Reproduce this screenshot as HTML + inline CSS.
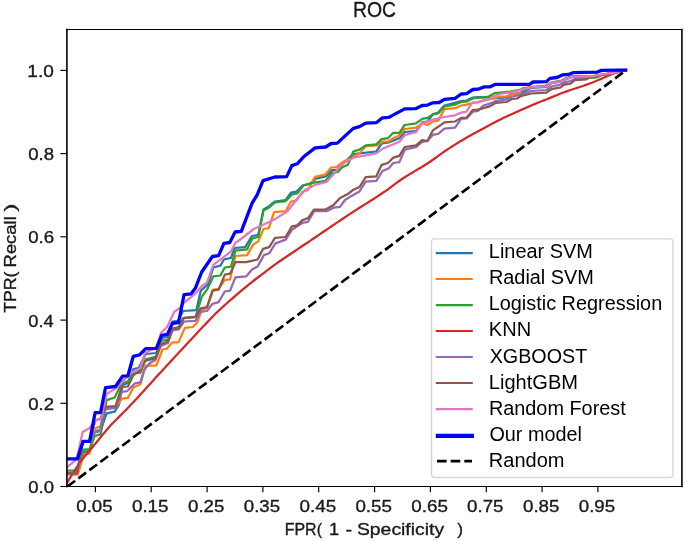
<!DOCTYPE html>
<html><head><meta charset="utf-8"><title>ROC</title>
<style>
html,body{margin:0;padding:0;background:#fff;}
body{width:685px;height:541px;overflow:hidden;position:relative;font-family:"Liberation Sans",sans-serif;}
</style></head><body>
<svg width="685" height="541" viewBox="0 0 685 541" style="display:block;position:absolute;left:0;top:0">
<rect x="0" y="0" width="685" height="541" fill="#ffffff"/>
<defs><clipPath id="ax"><rect x="66.9" y="29.5" width="615.0" height="457.0"/></clipPath></defs>
<g clip-path="url(#ax)" fill="none" stroke-linejoin="round" stroke-linecap="square">
<polyline points="67.2,473.5 77.5,473.5 83.5,452.0 89.5,451.0 95.0,431.0 100.7,430.0 106.6,413.4 114.6,411.7 119.0,404.6 122.6,385.0 127.9,383.0 133.3,369.0 138.6,368.2 145.7,354.0 156.3,353.0 161.7,338.0 167.9,337.0 172.4,321.7 177.8,320.8 183.1,311.0 196.4,310.1 200.8,290.6 207.9,284.4 213.3,267.5 220.4,265.7 223.9,259.5 231.0,257.8 234.6,248.0 245.2,247.1 252.0,236.0 258.2,235.0 263.5,209.5 268.8,206.5 275.0,201.5 285.7,200.0 291.0,192.6 296.3,191.7 302.5,185.5 310.5,183.7 315.9,178.7 325.7,176.4 332.0,170.1 337.3,169.8 342.6,163.9 353.3,154.1 359.5,153.3 376.3,151.5 381.7,143.5 387.9,142.6 399.4,138.2 404.7,132.0 416.0,131.2 422.2,122.4 427.5,121.5 432.8,114.4 438.2,112.6 444.4,105.5 455.0,102.8 461.2,101.1 466.6,100.5 472.8,97.5 478.1,97.2 488.8,97.5 494.1,98.4 506.5,97.5 511.0,94.0 520.0,93.1 531.3,88.0 546.4,87.0 551.7,83.2 561.5,81.5 565.0,79.6 572.1,77.0 591.7,76.6 602.3,74.5 613.0,72.8 625.7,70.2" stroke="#1f77b4" stroke-width="2.25"/>
<polyline points="67.2,474.3 77.8,474.6 83.7,454.4 89.6,453.6 94.8,428.5 100.5,426.3 105.5,407.0 116.6,406.0 122.0,398.7 127.9,397.9 133.3,387.5 140.4,384.2 145.7,365.5 156.3,365.5 162.5,349.5 167.0,348.6 172.3,342.4 178.5,342.4 181.3,335.9 184.9,327.9 192.8,327.0 197.3,322.5 201.7,310.0 207.0,308.0 213.3,289.7 218.6,288.8 224.8,279.9 230.1,279.4 235.4,256.0 247.0,255.1 253.2,244.6 258.2,241.4 263.5,229.0 268.8,228.1 274.1,212.1 285.7,211.2 291.0,201.5 296.3,200.6 302.5,191.7 307.9,189.9 315.0,176.9 325.6,174.3 331.1,167.5 336.4,167.1 342.6,162.1 351.5,157.7 359.5,153.3 365.7,146.2 377.2,145.3 382.5,141.7 387.9,141.7 393.2,138.2 399.4,135.5 404.7,129.0 416.0,127.7 422.2,123.3 427.5,125.0 432.8,121.5 438.2,120.6 444.4,109.1 455.0,108.2 461.2,105.5 466.6,104.6 472.8,102.8 478.1,102.5 483.4,100.2 494.1,98.4 499.4,96.6 506.5,96.3 513.6,94.0 520.0,93.1 522.4,88.2 545.5,85.5 551.7,82.5 561.5,80.8 565.0,79.0 572.1,76.4 591.7,76.2 602.3,74.5 613.0,72.8 625.7,70.2" stroke="#ff7f0e" stroke-width="2.25"/>
<polyline points="67.2,470.7 76.3,470.7 83.7,449.6 89.6,449.2 94.8,435.9 100.7,434.4 104.4,413.0 106.6,400.1 114.6,397.5 121.7,383.3 127.9,381.5 133.3,373.5 140.4,372.6 145.7,359.3 156.3,356.6 161.7,340.7 167.7,339.8 173.3,328.3 178.9,327.0 183.1,318.1 195.5,317.2 201.7,296.8 207.0,289.7 213.3,276.4 220.4,275.5 224.8,267.5 231.0,266.6 235.4,250.7 247.0,249.4 252.3,238.5 258.2,237.0 263.5,210.4 268.8,207.7 275.0,202.4 285.7,201.1 291.9,194.4 297.2,193.5 303.4,185.5 312.3,182.8 325.7,180.8 332.0,172.8 338.2,171.9 341.7,167.5 347.9,164.8 353.3,151.5 359.5,149.7 365.7,145.3 376.3,144.4 381.7,139.1 387.9,138.2 393.2,132.8 399.4,132.8 404.7,125.0 416.0,123.3 422.2,118.8 427.5,117.9 432.8,114.4 438.2,113.5 444.4,106.4 455.0,104.6 461.2,102.0 466.6,101.6 472.8,98.4 488.8,96.6 495.0,93.1 510.0,91.7 520.7,89.5 531.3,87.0 546.4,86.0 551.7,82.5 561.5,80.5 565.0,78.8 572.1,76.2 586.3,76.4 591.7,77.8 597.0,77.3 602.3,74.9 613.0,73.1 625.7,70.2" stroke="#2ca02c" stroke-width="2.25"/>
<polyline points="67.2,482.5 70.3,477.4 73.5,472.4 76.8,467.2 80.0,462.3 83.0,458.4 86.0,454.8 89.0,451.3 92.0,447.8 95.1,444.0 98.2,440.2 101.3,436.3 104.4,432.6 107.2,429.3 110.0,426.1 113.1,422.8 116.2,419.7 119.2,416.6 122.3,413.5 125.4,410.5 128.5,407.3 131.6,404.0 134.7,400.7 137.8,397.4 140.8,394.0 143.9,390.7 147.0,387.3 150.1,383.9 153.2,380.5 156.2,377.1 159.3,373.7 162.4,370.4 165.5,367.0 168.6,363.7 171.6,360.4 174.7,357.1 177.8,353.8 180.8,350.5 183.9,347.2 186.8,344.1 189.6,341.1 192.5,338.0 195.3,334.9 198.2,331.8 201.0,328.8 203.9,325.8 206.7,322.9 209.4,320.0 212.2,317.1 214.9,314.3 217.7,311.6 220.5,309.0 223.3,306.4 226.0,304.0 228.8,301.5 231.6,299.1 234.4,296.7 237.1,294.3 239.9,291.9 242.6,289.6 245.4,287.3 248.7,284.7 251.9,282.1 255.2,279.5 258.5,277.0 261.6,274.6 264.7,272.3 267.8,269.9 270.8,267.6 273.9,265.3 277.0,263.1 280.0,261.0 283.0,259.0 286.0,257.0 289.0,255.0 292.0,253.0 295.0,251.0 298.1,248.9 301.2,246.8 304.2,244.8 307.3,242.7 310.4,240.6 313.5,238.5 316.5,236.5 319.6,234.4 322.7,232.3 325.8,230.2 328.9,228.1 332.0,226.0 335.1,223.9 338.1,221.9 341.2,219.8 344.3,217.7 347.4,215.6 350.5,213.6 353.4,211.7 356.2,209.9 359.1,208.0 362.0,206.2 364.9,204.4 367.8,202.6 370.6,200.8 373.5,199.0 376.4,197.1 379.2,195.3 382.1,193.3 385.0,191.4 388.0,189.3 390.9,187.1 393.9,184.9 396.9,182.7 399.8,180.5 402.8,178.5 405.9,176.5 409.0,174.6 412.1,172.7 415.2,170.9 418.4,169.0 421.5,167.2 424.6,165.3 427.7,163.3 430.8,161.2 433.9,159.0 436.9,156.8 440.0,154.6 443.1,152.4 446.2,150.3 449.1,148.4 452.1,146.5 455.0,144.6 458.0,142.7 460.9,140.9 463.9,139.2 466.7,137.6 469.4,136.1 472.2,134.6 474.9,133.1 477.7,131.6 480.5,130.1 483.3,128.5 486.0,127.0 488.8,125.5 491.6,124.0 494.4,122.6 497.2,121.1 499.9,119.7 502.7,118.3 505.5,117.0 508.3,115.7 511.0,114.5 513.8,113.2 516.5,112.0 519.3,110.8 522.4,109.4 525.6,108.0 528.7,106.6 531.9,105.2 535.0,103.9 537.9,102.7 540.8,101.5 543.8,100.4 546.7,99.3 549.6,98.1 552.5,96.9 555.4,95.7 558.4,94.5 561.3,93.3 564.2,92.2 567.3,91.1 570.5,90.0 573.6,89.0 576.7,88.0 579.8,87.0 583.0,86.0 586.1,84.9 589.0,83.8 591.9,82.7 594.9,81.5 597.8,80.3 600.7,79.1 603.6,77.8 606.5,76.5 609.5,75.2 612.4,74.0 615.8,72.8 619.2,71.8 622.6,70.9 625.7,70.2" stroke="#d62728" stroke-width="2.25"/>
<polyline points="67.2,473.0 77.0,473.0 82.8,441.9 89.3,441.5 94.3,432.5 99.9,431.4 102.4,418.2 104.0,411.1 106.5,409.1 115.5,408.0 121.7,392.0 127.0,391.2 135.0,383.3 140.4,382.4 144.0,370.0 150.0,363.0 155.4,360.0 160.8,346.0 167.9,343.0 172.4,330.5 178.6,329.5 184.0,321.5 195.5,320.8 200.8,311.9 207.0,311.0 212.4,303.9 218.6,302.1 224.8,291.5 230.1,290.6 235.4,277.3 246.1,276.4 252.3,269.3 257.6,266.6 263.9,255.1 269.2,253.3 275.4,243.4 285.7,239.6 291.9,229.9 297.2,226.3 302.5,222.8 307.9,221.9 314.1,211.2 326.5,211.2 333.6,207.7 340.0,206.8 345.0,200.0 351.5,195.9 359.5,191.4 365.7,181.7 376.3,180.8 382.5,171.0 388.8,168.3 393.2,163.0 399.4,162.1 404.7,149.7 416.0,147.2 422.2,141.9 427.5,141.0 432.8,134.8 438.2,133.9 444.4,128.6 455.0,127.7 461.2,118.8 466.6,118.5 472.8,111.7 478.1,110.8 483.4,105.5 489.7,103.7 495.9,101.1 506.5,99.3 511.8,96.6 520.0,94.9 531.3,91.0 546.4,90.0 551.7,86.5 560.6,84.5 564.1,82.5 570.4,81.0 574.8,79.0 586.3,78.5 591.7,76.6 602.3,74.9 613.0,73.1 625.7,70.2" stroke="#9467bd" stroke-width="2.25"/>
<polyline points="67.2,473.3 77.0,473.3 82.8,441.5 89.3,441.2 95.3,420.7 100.4,418.8 103.5,411.1 106.0,406.8 115.5,406.3 121.7,386.8 127.9,386.5 133.3,375.3 140.4,370.0 144.8,361.0 155.4,358.4 160.8,344.2 167.9,341.5 172.4,328.8 178.6,327.9 184.0,317.8 195.5,316.9 200.8,308.3 207.0,307.1 212.4,290.6 218.6,289.7 224.8,274.6 230.1,273.7 235.4,262.2 246.1,262.2 257.6,259.5 263.0,248.9 269.2,247.1 275.0,237.9 285.7,237.0 291.9,226.3 297.2,225.4 302.5,220.1 307.9,218.3 314.1,209.5 325.6,209.5 333.6,205.0 340.0,197.9 347.9,194.1 353.3,189.7 359.5,187.0 365.7,177.2 376.3,176.3 381.7,164.8 387.9,163.0 393.2,157.7 399.4,155.9 404.7,147.0 416.0,145.4 422.2,140.1 427.5,141.0 432.8,130.4 438.2,126.8 444.4,122.4 455.0,121.5 461.2,117.9 466.6,117.6 472.8,109.9 478.1,109.6 483.4,108.2 489.7,106.4 495.9,102.8 506.5,102.0 511.8,99.0 517.1,98.5 520.7,96.2 531.3,93.5 546.4,92.6 551.7,89.1 560.6,87.3 564.1,84.6 570.4,83.7 574.8,80.2 586.3,79.3 591.7,76.6 602.3,74.9 613.0,73.1 625.7,70.2" stroke="#8c564b" stroke-width="2.25"/>
<polyline points="67.2,467.0 76.3,459.6 78.5,451.4 82.6,432.0 87.2,429.4 89.5,428.2 95.5,420.5 101.4,417.7 106.6,393.9 115.5,388.6 131.5,372.6 140.4,368.2 144.8,353.0 156.3,347.8 161.0,333.0 167.1,327.0 174.2,311.9 179.5,308.3 184.9,302.1 195.5,293.3 201.7,286.2 207.0,282.6 213.3,264.9 231.0,251.5 235.4,242.7 241.7,238.5 253.7,229.0 273.3,220.1 287.5,211.2 296.3,199.7 305.2,189.9 315.9,184.6 326.5,182.0 342.6,163.9 353.3,157.7 376.3,153.3 382.5,148.8 399.4,141.7 404.7,135.2 416.0,132.1 422.2,123.3 432.8,119.7 444.4,117.0 455.0,115.3 461.2,112.6 466.6,111.7 471.9,102.8 478.1,102.0 488.8,99.3 495.0,95.7 499.4,94.0 510.0,92.6 520.7,89.9 531.3,87.3 546.4,86.4 551.7,82.8 561.5,81.1 565.0,79.3 572.1,76.6 591.7,76.4 602.3,74.5 613.0,72.8 625.7,70.2" stroke="#e377c2" stroke-width="2.25"/>
<polyline points="67.2,458.8 77.5,458.8 83.0,441.4 89.6,441.4 95.1,412.7 100.5,412.7 105.5,387.7 115.5,386.5 122.6,376.2 127.9,375.8 133.3,356.3 139.5,354.9 145.7,348.6 156.3,348.3 161.7,335.3 167.5,334.3 172.4,323.4 178.6,322.5 184.0,294.7 191.1,293.8 195.5,287.9 201.7,272.0 212.4,256.5 218.6,255.6 223.9,243.4 229.8,242.5 235.1,232.0 241.3,231.3 252.0,203.3 257.3,194.6 263.0,180.6 275.0,177.0 286.6,176.6 291.9,165.6 297.2,163.8 304.3,156.2 315.1,147.9 325.7,147.0 331.1,143.5 337.3,143.1 353.3,128.4 359.5,126.6 365.7,123.1 376.3,122.7 382.5,117.8 388.8,117.4 404.7,108.9 416.0,108.6 422.2,105.5 427.5,105.1 432.8,102.8 439.1,102.5 444.4,99.3 455.0,98.4 461.2,94.0 466.6,93.6 472.8,89.5 478.1,89.2 484.3,86.9 489.7,86.9 495.0,84.4 529.5,84.3 533.1,82.0 546.4,81.6 549.9,78.4 557.0,77.5 562.4,74.9 568.6,74.5 573.0,72.7 597.0,72.2 601.4,70.4 616.5,70.2 625.7,70.2" stroke="#0000ff" stroke-width="3.3"/>
<line x1="67.45" y1="486.5" x2="625.9" y2="70.4" stroke="#000" stroke-width="2.65" stroke-dasharray="9.6 4.06" stroke-linecap="butt"/>
</g>
<g stroke="#000" stroke-width="1.15" fill="none"><line x1="95.4" y1="486.5" x2="95.4" y2="492.2"/><line x1="151.2" y1="486.5" x2="151.2" y2="492.2"/><line x1="207.1" y1="486.5" x2="207.1" y2="492.2"/><line x1="262.9" y1="486.5" x2="262.9" y2="492.2"/><line x1="318.7" y1="486.5" x2="318.7" y2="492.2"/><line x1="374.6" y1="486.5" x2="374.6" y2="492.2"/><line x1="430.4" y1="486.5" x2="430.4" y2="492.2"/><line x1="486.3" y1="486.5" x2="486.3" y2="492.2"/><line x1="542.1" y1="486.5" x2="542.1" y2="492.2"/><line x1="597.9" y1="486.5" x2="597.9" y2="492.2"/><line x1="66.9" y1="486.5" x2="60.4" y2="486.5"/><line x1="66.9" y1="403.3" x2="60.4" y2="403.3"/><line x1="66.9" y1="320.1" x2="60.4" y2="320.1"/><line x1="66.9" y1="236.8" x2="60.4" y2="236.8"/><line x1="66.9" y1="153.6" x2="60.4" y2="153.6"/><line x1="66.9" y1="70.4" x2="60.4" y2="70.4"/></g>
<g stroke="#000" stroke-linecap="square" fill="none"><line x1="66.9" y1="29.5" x2="66.9" y2="486.5" stroke-width="1.6"/><line x1="681.9" y1="29.5" x2="681.9" y2="486.5" stroke-width="1.6"/><line x1="66.9" y1="29.5" x2="681.9" y2="29.5" stroke-width="1.15"/><line x1="66.9" y1="486.5" x2="681.9" y2="486.5" stroke-width="1.15"/></g>
<g opacity="0.999" stroke="#1a1a1a" stroke-width="0.35" stroke-linejoin="round">
<text x="352.91" y="17.40" font-size="22" fill="#1a1a1a" textLength="43.13" lengthAdjust="spacingAndGlyphs" font-family="Liberation Sans, sans-serif">ROC</text>
<text x="76.31" y="511.50" font-size="17" fill="#1a1a1a" textLength="36.35" lengthAdjust="spacingAndGlyphs" font-family="Liberation Sans, sans-serif">0.05</text>
<text x="131.90" y="511.50" font-size="17" fill="#1a1a1a" textLength="36.71" lengthAdjust="spacingAndGlyphs" font-family="Liberation Sans, sans-serif">0.15</text>
<text x="188.02" y="511.50" font-size="17" fill="#1a1a1a" textLength="36.28" lengthAdjust="spacingAndGlyphs" font-family="Liberation Sans, sans-serif">0.25</text>
<text x="243.77" y="511.50" font-size="17" fill="#1a1a1a" textLength="36.37" lengthAdjust="spacingAndGlyphs" font-family="Liberation Sans, sans-serif">0.35</text>
<text x="299.45" y="511.50" font-size="17" fill="#1a1a1a" textLength="36.72" lengthAdjust="spacingAndGlyphs" font-family="Liberation Sans, sans-serif">0.45</text>
<text x="355.43" y="511.50" font-size="17" fill="#1a1a1a" textLength="36.54" lengthAdjust="spacingAndGlyphs" font-family="Liberation Sans, sans-serif">0.55</text>
<text x="411.21" y="511.50" font-size="17" fill="#1a1a1a" textLength="36.71" lengthAdjust="spacingAndGlyphs" font-family="Liberation Sans, sans-serif">0.65</text>
<text x="467.14" y="511.50" font-size="17" fill="#1a1a1a" textLength="36.40" lengthAdjust="spacingAndGlyphs" font-family="Liberation Sans, sans-serif">0.75</text>
<text x="523.01" y="511.50" font-size="17" fill="#1a1a1a" textLength="36.42" lengthAdjust="spacingAndGlyphs" font-family="Liberation Sans, sans-serif">0.85</text>
<text x="578.79" y="511.50" font-size="17" fill="#1a1a1a" textLength="36.36" lengthAdjust="spacingAndGlyphs" font-family="Liberation Sans, sans-serif">0.95</text>
<text x="28.25" y="493.10" font-size="17" fill="#1a1a1a" textLength="25.73" lengthAdjust="spacingAndGlyphs" font-family="Liberation Sans, sans-serif">0.0</text>
<text x="28.25" y="409.88" font-size="17" fill="#1a1a1a" textLength="25.77" lengthAdjust="spacingAndGlyphs" font-family="Liberation Sans, sans-serif">0.2</text>
<text x="28.26" y="326.66" font-size="17" fill="#1a1a1a" textLength="25.36" lengthAdjust="spacingAndGlyphs" font-family="Liberation Sans, sans-serif">0.4</text>
<text x="28.25" y="243.44" font-size="17" fill="#1a1a1a" textLength="25.94" lengthAdjust="spacingAndGlyphs" font-family="Liberation Sans, sans-serif">0.6</text>
<text x="28.25" y="160.22" font-size="17" fill="#1a1a1a" textLength="25.76" lengthAdjust="spacingAndGlyphs" font-family="Liberation Sans, sans-serif">0.8</text>
<text x="27.39" y="77.00" font-size="17" fill="#1a1a1a" textLength="26.43" lengthAdjust="spacingAndGlyphs" font-family="Liberation Sans, sans-serif">1.0</text>
<text x="284.67" y="535.40" font-size="17" fill="#1a1a1a" textLength="37.31" lengthAdjust="spacingAndGlyphs" font-family="Liberation Sans, sans-serif">FPR(</text>
<text x="329.10" y="535.40" font-size="17" fill="#1a1a1a" textLength="10.12" lengthAdjust="spacingAndGlyphs" font-family="Liberation Sans, sans-serif">1</text>
<text x="345.45" y="535.40" font-size="17" fill="#1a1a1a" textLength="6.71" lengthAdjust="spacingAndGlyphs" font-family="Liberation Sans, sans-serif">-</text>
<text x="356.95" y="535.40" font-size="17" fill="#1a1a1a" textLength="87.17" lengthAdjust="spacingAndGlyphs" font-family="Liberation Sans, sans-serif">Specificity</text>
<text x="457.30" y="535.40" font-size="17" fill="#1a1a1a" textLength="5.75" lengthAdjust="spacingAndGlyphs" font-family="Liberation Sans, sans-serif">)</text>
<g transform="translate(15.50,312.85) rotate(-90)"><text x="0" y="0" font-size="17" fill="#1a1a1a" textLength="41.37" lengthAdjust="spacingAndGlyphs" font-family="Liberation Sans, sans-serif">TPR(</text></g>
<g transform="translate(15.50,267.40) rotate(-90)"><text x="0" y="0" font-size="17" fill="#1a1a1a" textLength="51.14" lengthAdjust="spacingAndGlyphs" font-family="Liberation Sans, sans-serif">Recall</text></g>
<g transform="translate(15.50,211.82) rotate(-90)"><text x="0" y="0" font-size="17" fill="#1a1a1a" textLength="8.18" lengthAdjust="spacingAndGlyphs" font-family="Liberation Sans, sans-serif">)</text></g>
</g>
<rect x="431.5" y="238.9" width="241.5" height="238.6" rx="3" ry="3" fill="#ffffff" fill-opacity="0.8" stroke="#d6d6d6" stroke-width="1.39"/>
<line x1="435.8" y1="253.10" x2="472.8" y2="253.10" stroke="#1f77b4" stroke-width="2.08"/>
<g opacity="0.999"><text x="488.86" y="257.70" font-size="20.0" fill="#000" textLength="104.07" lengthAdjust="spacingAndGlyphs" font-family="Liberation Sans, sans-serif">Linear&#160;SVM</text></g>
<line x1="435.8" y1="279.05" x2="472.8" y2="279.05" stroke="#ff7f0e" stroke-width="2.08"/>
<g opacity="0.999"><text x="488.89" y="283.90" font-size="20.0" fill="#000" textLength="105.08" lengthAdjust="spacingAndGlyphs" font-family="Liberation Sans, sans-serif">Radial&#160;SVM</text></g>
<line x1="435.8" y1="305.10" x2="472.8" y2="305.10" stroke="#2ca02c" stroke-width="2.08"/>
<g opacity="0.999"><text x="488.66" y="310.10" font-size="20.0" fill="#000" textLength="173.56" lengthAdjust="spacingAndGlyphs" font-family="Liberation Sans, sans-serif">Logistic&#160;Regression</text></g>
<line x1="435.8" y1="331.05" x2="472.8" y2="331.05" stroke="#d62728" stroke-width="2.08"/>
<g opacity="0.999"><text x="488.87" y="336.30" font-size="20.0" fill="#000" textLength="42.31" lengthAdjust="spacingAndGlyphs" font-family="Liberation Sans, sans-serif">KNN</text></g>
<line x1="435.8" y1="357.00" x2="472.8" y2="357.00" stroke="#9467bd" stroke-width="2.08"/>
<g opacity="0.999"><text x="489.67" y="362.50" font-size="20.0" fill="#000" textLength="97.52" lengthAdjust="spacingAndGlyphs" font-family="Liberation Sans, sans-serif">XGBOOST</text></g>
<line x1="435.8" y1="383.00" x2="472.8" y2="383.00" stroke="#8c564b" stroke-width="2.08"/>
<g opacity="0.999"><text x="488.83" y="388.70" font-size="20.0" fill="#000" textLength="89.19" lengthAdjust="spacingAndGlyphs" font-family="Liberation Sans, sans-serif">LightGBM</text></g>
<line x1="435.8" y1="409.10" x2="472.8" y2="409.10" stroke="#e377c2" stroke-width="2.08"/>
<g opacity="0.999"><text x="488.88" y="414.90" font-size="20.0" fill="#000" textLength="136.92" lengthAdjust="spacingAndGlyphs" font-family="Liberation Sans, sans-serif">Random&#160;Forest</text></g>
<line x1="435.8" y1="435.85" x2="474.0" y2="435.85" stroke="#0000ff" stroke-width="4.17"/>
<g opacity="0.999"><text x="489.42" y="441.10" font-size="20.0" fill="#000" textLength="92.46" lengthAdjust="spacingAndGlyphs" font-family="Liberation Sans, sans-serif">Our&#160;model</text></g>
<line x1="437.0" y1="461.10" x2="472.0" y2="461.10" stroke="#000000" stroke-width="2.65" stroke-dasharray="9.6 4.06"/>
<g opacity="0.999"><text x="488.86" y="467.30" font-size="20.0" fill="#000" textLength="75.59" lengthAdjust="spacingAndGlyphs" font-family="Liberation Sans, sans-serif">Random</text></g>
</svg>
</body></html>
